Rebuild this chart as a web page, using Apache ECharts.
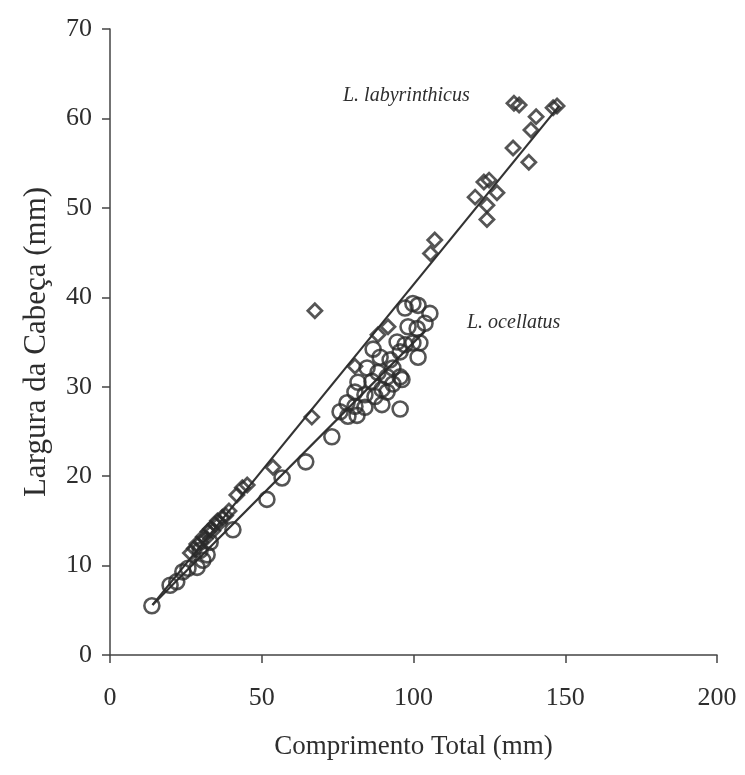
<!DOCTYPE html>
<html>
<head>
<meta charset="utf-8">
<script src="https://cdn.jsdelivr.net/npm/echarts@6/dist/echarts.min.js"></script>
<style>
  html, body { margin: 0; padding: 0; background: #fff; }
  #chart { width: 745px; height: 775px; }
</style>
</head>
<body>
<div id="chart"></div>
<script>
// L. labyrinthicus (losangos) - [comprimento total, largura da cabeca]
const labyrinthicus = [
  [26.5, 11.4], [27.8, 11.9], [28.6, 12.4], [29.9, 12.6], [30.7, 13.2], [31.4, 13.0],
  [32.3, 13.8], [33.1, 14.1], [33.9, 13.9], [34.6, 14.6], [35.4, 15.0], [36.2, 14.8],
  [37.0, 15.4], [38.1, 15.6], [39.2, 16.1], [41.8, 17.9], [43.6, 18.7], [45.2, 19.0],
  [53.7, 21.0], [66.5, 26.6], [67.5, 38.5], [80.7, 32.3], [88.3, 35.8], [91.6, 36.7],
  [105.6, 44.9], [107.0, 46.4], [120.3, 51.2], [123.2, 52.9], [124.9, 53.1], [124.2, 50.3],
  [124.2, 48.7], [127.5, 51.7], [132.8, 56.7], [138.0, 55.1], [138.7, 58.7], [140.4, 60.2],
  [133.1, 61.7], [134.8, 61.5], [146.0, 61.2], [147.3, 61.4]
];
// L. ocellatus (circulos)
const ocellatus = [
  [13.8, 5.5], [19.8, 7.8], [22.0, 8.2], [24.0, 9.3], [25.7, 9.7], [28.7, 9.8],
  [30.6, 10.6], [29.7, 11.7], [32.0, 11.2], [33.0, 12.6], [40.5, 14.0], [51.7, 17.4],
  [56.7, 19.8], [64.5, 21.6], [73.1, 24.4], [75.8, 27.2], [78.4, 26.7], [81.4, 26.8],
  [78.1, 28.2], [80.7, 27.8], [84.0, 27.7], [89.6, 28.0], [95.6, 27.5], [80.7, 29.4],
  [84.0, 29.1], [87.3, 28.9], [91.3, 29.4], [81.7, 30.5], [86.3, 30.6], [89.6, 29.7],
  [93.2, 30.3], [96.2, 30.8], [84.7, 32.1], [88.3, 31.6], [91.3, 31.1], [95.6, 31.1],
  [93.2, 32.1], [86.7, 34.2], [89.0, 33.3], [92.3, 33.0], [95.6, 33.9], [101.5, 33.3],
  [94.6, 35.0], [97.2, 34.7], [99.8, 34.9], [102.1, 34.9], [98.2, 36.7], [101.2, 36.5],
  [103.8, 37.1], [97.2, 38.8], [99.8, 39.3], [101.5, 39.1], [105.4, 38.2]
];
// retas ajustadas (extremos)
const lineLabyrinthicus = [[14, 5.6], [148, 61.4]];
const lineOcellatus = [[14, 5.6], [104, 36.3]];

const xTicks = [0, 50, 100, 150, 200];
const yTicks = [0, 10, 20, 30, 40, 50, 60, 70];

const myChart = echarts.init(document.getElementById('chart'));
const font = '"Liberation Serif", "DejaVu Serif", serif';
const ink = '#2e2e2e';

const option = {
  backgroundColor: '#fff',
  animation: false,
  grid: { left: 110, right: 28, top: 29, bottom: 120 },
  xAxis: {
    type: 'value',
    min: xTicks[0],
    max: xTicks[xTicks.length - 1],
    interval: xTicks[1] - xTicks[0],
    name: 'Comprimento Total (mm)',
    nameLocation: 'middle',
    nameGap: 78,
    nameTextStyle: { fontFamily: font, fontSize: 27, color: ink },
    axisLine: { lineStyle: { color: '#444', width: 1.5 } },
    axisTick: { length: 8, lineStyle: { color: '#444', width: 1.5 } },
    axisLabel: { fontFamily: font, fontSize: 26, color: ink, margin: 30 },
    splitLine: { show: false },
  },
  yAxis: {
    type: 'value',
    min: yTicks[0],
    max: yTicks[yTicks.length - 1],
    interval: yTicks[1] - yTicks[0],
    name: 'Largura da Cabeça (mm)',
    nameLocation: 'middle',
    nameGap: 58,
    nameTextStyle: { fontFamily: font, fontSize: 31, color: ink },
    axisLine: { show: true, lineStyle: { color: '#444', width: 1.5 } },
    axisTick: { show: true, length: 8, lineStyle: { color: '#444', width: 1.5 } },
    axisLabel: { fontFamily: font, fontSize: 26, color: ink, margin: 18 },
    splitLine: { show: false },
  },
  graphic: [
    {
      type: 'text', left: 343, top: 86,
      style: { text: 'L. labyrinthicus', font: 'italic 20px ' + font, fill: ink },
    },
    {
      type: 'text', left: 467, top: 313,
      style: { text: 'L. ocellatus', font: 'italic 20px ' + font, fill: ink },
    },
  ],
  series: [
    {
      type: 'line', data: lineLabyrinthicus, symbol: 'none', z: 1,
      lineStyle: { color: '#333', width: 2.2 },
    },
    {
      type: 'line', data: lineOcellatus, symbol: 'none', z: 1,
      lineStyle: { color: '#333', width: 2.2 },
    },
    {
      type: 'scatter', data: ocellatus, symbol: 'circle', symbolSize: 15, z: 2,
      itemStyle: { color: 'rgba(0,0,0,0)', borderColor: '#2b2b2b', borderWidth: 2.6 },
    },
    {
      type: 'scatter', data: labyrinthicus, symbol: 'diamond', symbolSize: 14, z: 3,
      itemStyle: { color: 'rgba(0,0,0,0)', borderColor: '#2b2b2b', borderWidth: 2.8 },
    },
  ],
};

myChart.setOption(option);
</script>
</body>
</html>
